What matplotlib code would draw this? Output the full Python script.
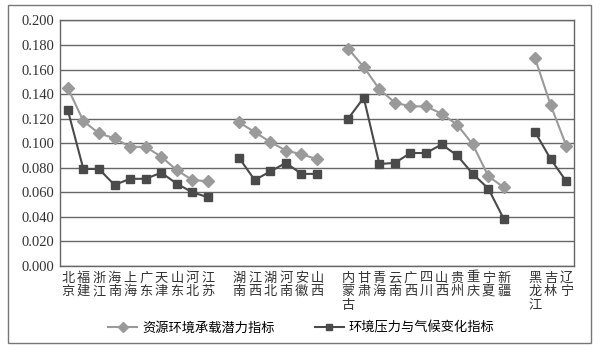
import numpy as np
import matplotlib.pyplot as plt
from matplotlib.patches import Rectangle

# Provinces, blank entries separate the regional groups
provinces = [
    "北京", "福建", "浙江", "海南", "上海", "广东", "天津", "山东", "河北", "江苏", "",
    "湖南", "江西", "湖北", "河南", "安徽", "山西", "",
    "内蒙古", "甘肃", "青海", "云南", "广西", "四川", "山西", "贵州", "重庆", "宁夏", "新疆", "",
    "黑龙江", "吉林", "辽宁",
]
nan = np.nan
resource_index = [
    0.145, 0.118, 0.108, 0.104, 0.097, 0.097, 0.089, 0.078, 0.070, 0.069, nan,
    0.117, 0.109, 0.101, 0.094, 0.091, 0.087, nan,
    0.177, 0.162, 0.144, 0.133, 0.130, 0.130, 0.124, 0.115, 0.099, 0.073, 0.064, nan,
    0.169, 0.131, 0.098,
]
pressure_index = [
    0.127, 0.079, 0.079, 0.066, 0.071, 0.071, 0.076, 0.067, 0.060, 0.056, nan,
    0.088, 0.070, 0.077, 0.084, 0.075, 0.075, nan,
    0.120, 0.137, 0.083, 0.084, 0.092, 0.092, 0.099, 0.090, 0.075, 0.063, 0.038, nan,
    0.109, 0.087, 0.069,
]
series_names = ["资源环境承载潜力指标", "环境压力与气候变化指标"]

cjk = ["Noto Sans CJK SC", "DejaVu Sans"]

fig = plt.figure(figsize=(6.03, 3.58), dpi=100)
ax = fig.add_axes([0.0995, 0.257, 0.8525, 0.686])

x = np.arange(len(provinces))
ax.plot(x, resource_index, color="#9a9a9a", lw=1.5, marker="D", ms=6,
        label=series_names[0], zorder=3)
ax.plot(x, pressure_index, color="#4a4a4a", lw=1.5, marker="s", ms=6,
        label=series_names[1], zorder=3)

ax.set_xlim(-0.5, len(provinces) - 0.5)
ax.set_ylim(0, 0.2)
ax.set_yticks(np.arange(0, 0.2001, 0.02))
ax.set_yticklabels([f"{v:.3f}" for v in np.arange(0, 0.2001, 0.02)],
                   family="Liberation Serif", fontsize=10.5, color="#333333")
ax.set_xticks(x)
ax.set_xticklabels(["\n".join(p) for p in provinces], family=cjk,
                   fontsize=9.5, linespacing=1.05, va="top", color="#333333")
ax.tick_params(length=0, pad=4)
ax.grid(axis="y", color="#666666", lw=1)
ax.set_axisbelow(True)
for s in ax.spines.values():
    s.set_color("#666666")
    s.set_linewidth(1)

leg = fig.legend(loc="center", bbox_to_anchor=(0.5, 0.084), ncol=2, frameon=False,
                 prop={"family": cjk, "size": 9.5}, handlelength=2.2,
                 columnspacing=3.0, handletextpad=0.4)
for h in leg.legend_handles:
    h.set_markersize(5)

# outer frame around the figure
fig.patches.append(Rectangle((0.013, 0.042), 0.967, 0.944, transform=fig.transFigure,
                             fill=False, edgecolor="#777777", lw=1))

fig.savefig("out.png", dpi=100)
